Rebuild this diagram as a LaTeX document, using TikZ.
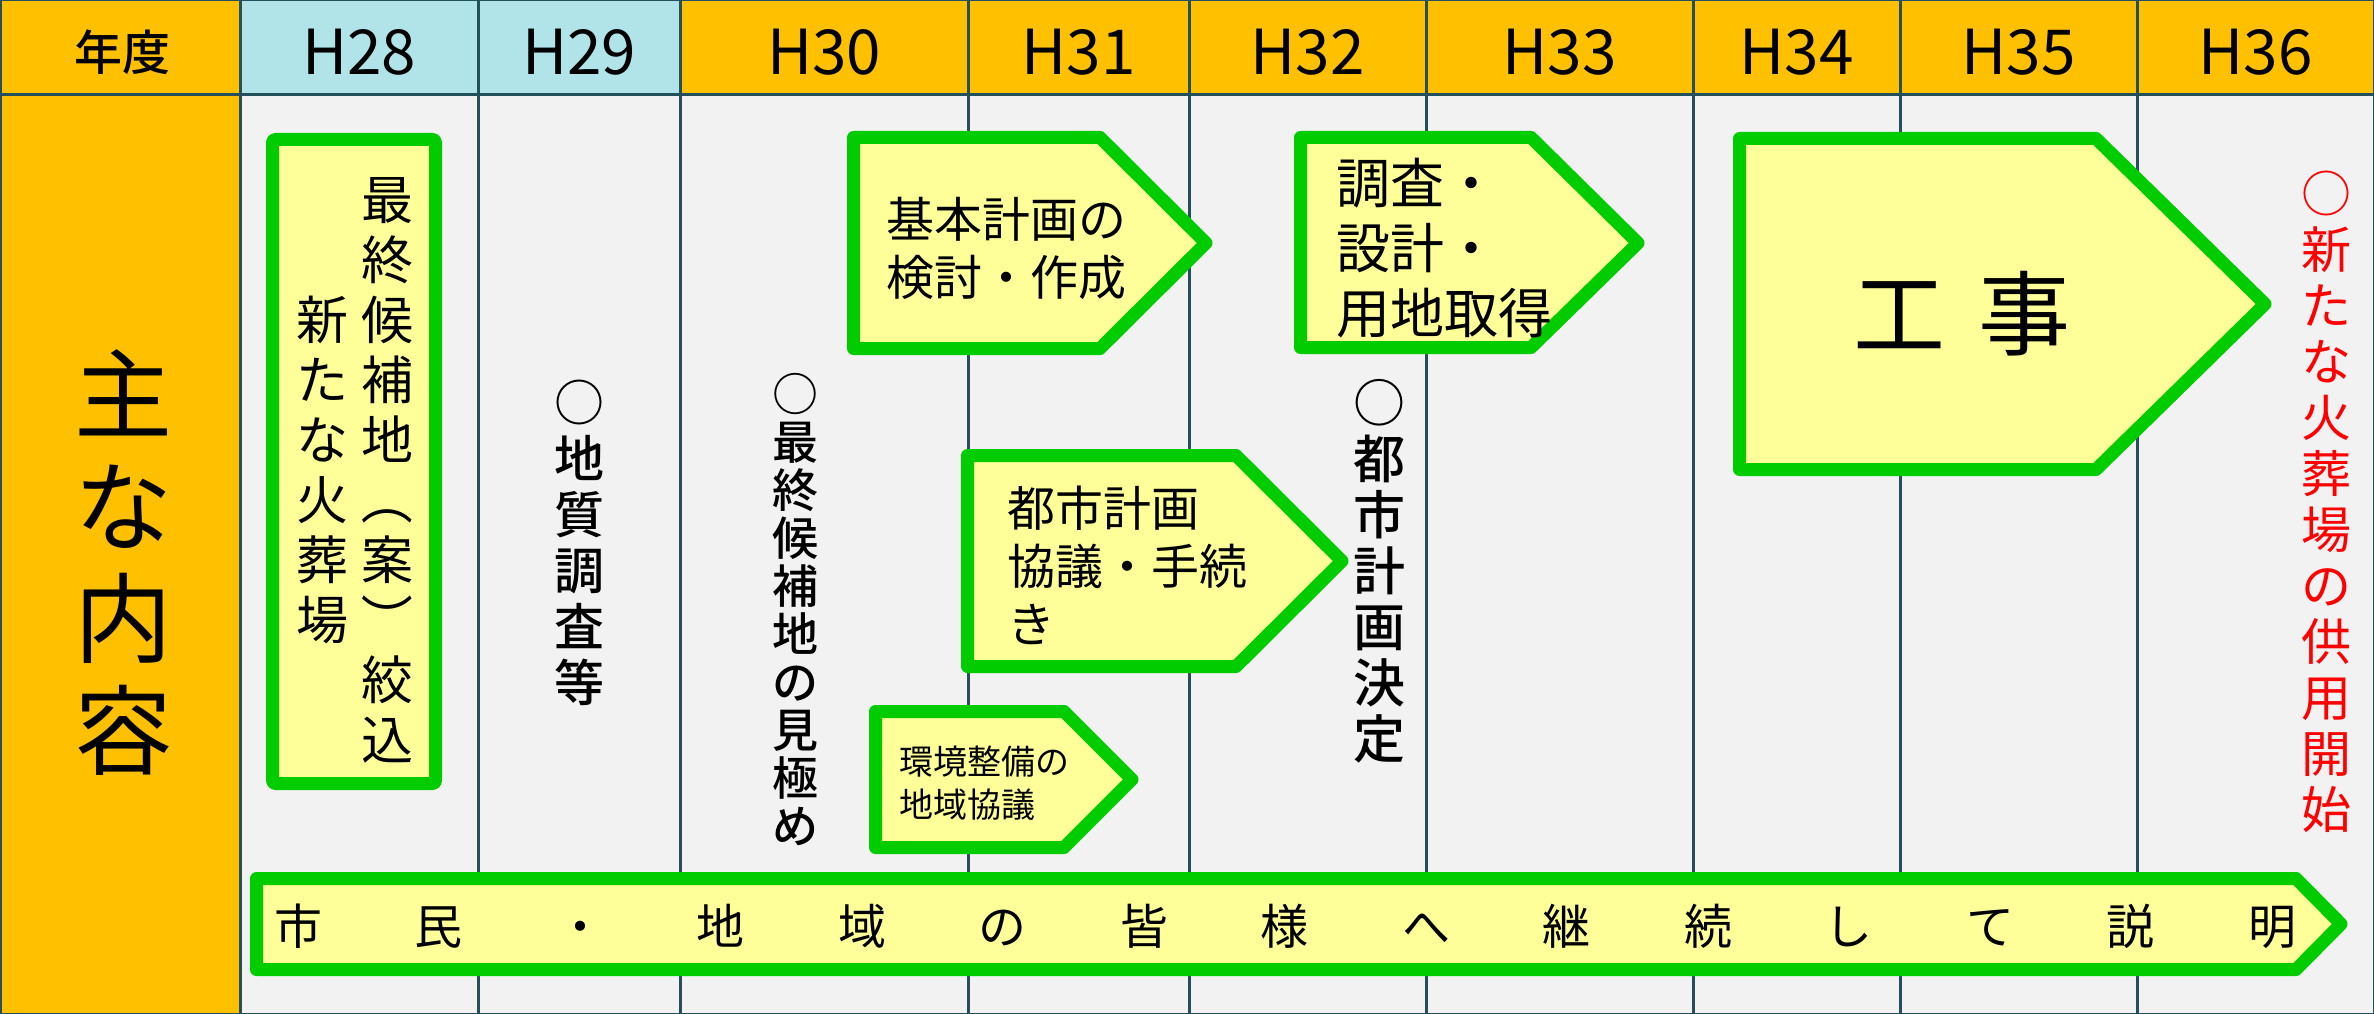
\documentclass[tikz,border=0pt]{standalone}
\usepackage{fontspec}
\setmainfont{Noto Sans CJK JP}
\newfontfamily\medfont{Noto Sans CJK JP}[UprightFont={* Medium}]
\definecolor{hdrorange}{HTML}{FFC000}
\definecolor{hdrblue}{HTML}{B0E4E8}
\definecolor{bodygrey}{HTML}{F2F2F2}
\definecolor{gridline}{HTML}{24505C}
\definecolor{boxgreen}{HTML}{00CC00}
\definecolor{boxfill}{HTML}{FFFF99}
\definecolor{redtext}{HTML}{FF0000}
\newcommand\myfs[2]{\fontsize{#1pt}{#2pt}\selectfont}
\newcommand\barch[1]{\makebox[141pt]{#1}}
\newcommand\vparen[1]{\rotatebox[origin=c]{-90}{#1}}
\begin{document}
\begin{tikzpicture}[x=1pt,y=-1pt,
  stepbox/.style={draw=boxgreen, fill=boxfill, line width=13pt, line join=round},
  gridl/.style={draw=gridline, line width=3pt},
  lbl/.style={inner sep=0pt, align=center}]
\useasboundingbox (0,0) rectangle (2374,1014);
% backgrounds
\fill[bodygrey] (0,0) rectangle (2374,1014);
\fill[hdrorange] (0,0) rectangle (2374,95);
\fill[hdrblue] (240,0) rectangle (680,95);
\fill[hdrorange] (0,95) rectangle (240,1014);
% grid
\foreach \x in {240,478,680,968,1189,1426,1693,1900,2137}
  \draw[gridl] (\x,0) -- (\x,1014);
\draw[gridl] (0,95) -- (2374,95);
\draw[gridl] (0,0) rectangle (2374,1014);
% header texts
\node[lbl, font=\myfs{48}{48}\medfont] (nendo) at (122,52) {年度};
\node[lbl, font=\myfs{62}{62}] (h28) at (359,52) {H28};
\node[lbl, font=\myfs{62}{62}] (h29) at (579,52) {H29};
\node[lbl, font=\myfs{62}{62}] (h30) at (824,52) {H30};
\node[lbl, font=\myfs{62}{62}] (h31) at (1078.5,52) {H31};
\node[lbl, font=\myfs{62}{62}] (h32) at (1307.5,52) {H32};
\node[lbl, font=\myfs{62}{62}] (h33) at (1559.5,52) {H33};
\node[lbl, font=\myfs{62}{62}] (h34) at (1796.5,52) {H34};
\node[lbl, font=\myfs{62}{62}] (h35) at (2018.5,52) {H35};
\node[lbl, font=\myfs{62}{62}] (h36) at (2255.5,52) {H36};
% left column
\node[lbl, font=\myfs{98}{112}] (shuna) at (123,562) {主\\な\\内\\容};
% green boxes
\draw[stepbox, rounded corners=3pt] (272.5,139.5) rectangle (435.5,783.5);
\draw[stepbox] (853.5,137.5) -- (1100,137.5) -- (1206,243) -- (1100,348.5) -- (853.5,348.5) -- cycle;
\draw[stepbox] (967.5,455.5) -- (1236,455.5) -- (1342,561) -- (1236,666.5) -- (967.5,666.5) -- cycle;
\draw[stepbox] (1300.5,137.5) -- (1531,137.5) -- (1638,243) -- (1531,347.5) -- (1300.5,347.5) -- cycle;
\draw[stepbox] (1739.5,138.5) -- (2096,138.5) -- (2265,304) -- (2096,469.5) -- (1739.5,469.5) -- cycle;
\draw[stepbox] (875.5,711.5) -- (1064,711.5) -- (1132,779.5) -- (1064,847.5) -- (875.5,847.5) -- cycle;
\draw[stepbox] (256.5,878.5) -- (2296,878.5) -- (2341,924) -- (2296,969.5) -- (256.5,969.5) -- cycle;
% box texts
\node[lbl, font=\myfs{52}{60}] (colR) at (387,470) {最\\終\\候\\補\\地\\\vparen{（}\\案\\\vparen{）}\\絞\\込};
\node[lbl, font=\myfs{52}{60}] (colL) at (322,470) {新\\た\\な\\火\\葬\\場};
\node[lbl, align=left, anchor=west, font=\myfs{48}{58}] (kihon) at (886,248) {基本計画の\\検討・作成};
\node[lbl, align=left, anchor=west, font=\myfs{48}{58}] (toshikyogi) at (1007,565) {都市計画\\協議・手続\\き};
\node[lbl, align=left, anchor=west, font=\myfs{54}{65}] (chosa) at (1336,248) {調査・\\設計・\\用地取得};
\node[lbl, font=\myfs{92}{92}] (koji) at (1962,314) {工\hspace{34pt}事};
\node[lbl, align=left, anchor=west, font=\myfs{34}{43}] (kankyo) at (899,783) {環境整備の\\地域協議};
\node[lbl, font=\myfs{48}{48}] (setsumei) at (1285,926) {\barch{市}\barch{民}\barch{・}\barch{地}\barch{域}\barch{の}\barch{皆}\barch{様}\barch{へ}\barch{継}\barch{続}\barch{し}\barch{て}\barch{説}\barch{明}};
% vertical labels
\node[lbl, font=\myfs{50}{56}\medfont] (chishitsu) at (579,543) {○\\地\\質\\調\\査\\等};
\node[lbl, font=\myfs{46}{48}\medfont] (mikiwame) at (795,610) {○\\最\\終\\候\\補\\地\\の\\見\\極\\め};
\node[lbl, font=\myfs{52}{56}\medfont] (toshikettei) at (1379,571) {○\\都\\市\\計\\画\\決\\定};
\node[lbl, font=\myfs{50}{56}, text=redtext] (kyoyo) at (2326,502) {○\\新\\た\\な\\火\\葬\\場\\の\\供\\用\\開\\始};
\end{tikzpicture}
\end{document}
